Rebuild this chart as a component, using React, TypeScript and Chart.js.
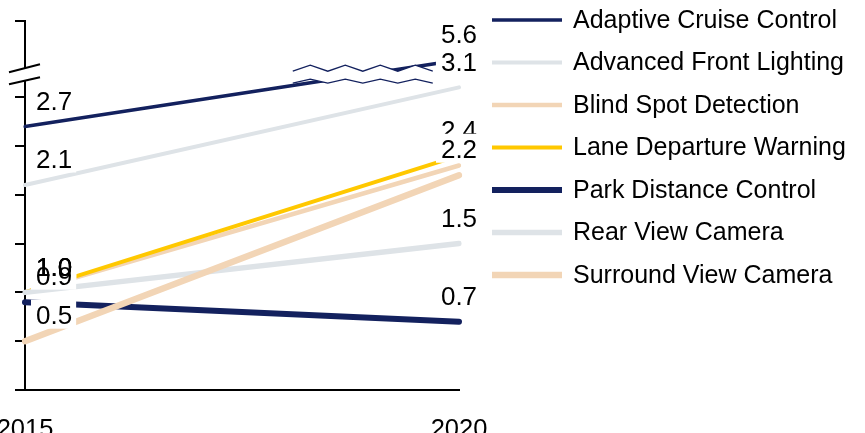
import { useEffect, useRef } from 'react';
import { Chart, registerables } from 'chart.js';

Chart.register(...registerables);

// ---- data ----
const YEARS = ['2015', '2020'];
const SERIES_NAMES = [
  'Adaptive Cruise Control',
  'Advanced Front Lighting',
  'Blind Spot Detection',
  'Lane Departure Warning',
  'Park Distance Control',
  'Rear View Camera',
  'Surround View Camera',
];
const ADAPTIVE_CRUISE = [2.7, 5.6];
const ADVANCED_FRONT = [2.1, 3.1];
const BLIND_SPOT = [1.0, 2.3];
const LANE_DEPARTURE = [1.0, 2.4];
const PARK_DISTANCE = [0.9, 0.7];
const REAR_VIEW = [1.0, 1.5];
const SURROUND_VIEW = [0.5, 2.2];
const SERIES_VALUES = [
  ADAPTIVE_CRUISE,
  ADVANCED_FRONT,
  BLIND_SPOT,
  LANE_DEPARTURE,
  PARK_DISTANCE,
  REAR_VIEW,
  SURROUND_VIEW,
];
const Y_TICKS = [0, 0.5, 1, 1.5, 2, 2.5, 3, 6];

// broken value axis: values between BREAK_FROM and BREAK_TO are cut out
const BREAK_FROM = 3.25;
const BREAK_TO = 5.47;
const toAxis = (v: number) => (v >= BREAK_TO ? v - (BREAK_TO - BREAK_FROM) : v);

// ---- styles ----
const NAVY = '#13215e';
const GRAY = '#dee3e7';
const PEACH = '#f2d5b6';
const YELLOW = '#ffc800';
const COLORS = [NAVY, GRAY, PEACH, YELLOW, NAVY, GRAY, PEACH];
const WIDTHS = [3.5, 4, 4.5, 4, 6, 5.5, 6.5];
const FONT = '"Liberation Sans", Arial, sans-serif';

const overlayPlugin = {
  id: 'overlay',
  afterDatasetsDraw(chart: any) {
    const ctx = chart.ctx;
    const xs = chart.scales.x;
    const ys = chart.scales.y;
    const x0 = xs.getPixelForValue(0);
    const x1 = xs.getPixelForValue(1);
    const yB = ys.getPixelForValue(BREAK_FROM - 0.02);

    // series break glyph on the first series
    ctx.save();
    const bx0 = x0 + 0.617 * (x1 - x0);
    const bx1 = x0 + 0.974 * (x1 - x0);
    const period = 35;
    const zig = (top: number, bottom: number) => {
      const pts: [number, number][] = [];
      let k = 0;
      for (let xx = bx0; xx <= bx1; xx += period / 2) {
        pts.push([xx, k % 2 === 0 ? bottom : top]);
        k++;
      }
      return pts;
    };
    const upper = zig(yB - 9.5, yB - 3.5);
    const lower = zig(yB + 4.5, yB + 8.5);
    ctx.beginPath();
    upper.forEach(([px, py], i) => (i ? ctx.lineTo(px, py) : ctx.moveTo(px, py)));
    [...lower].reverse().forEach(([px, py]) => ctx.lineTo(px, py));
    ctx.closePath();
    ctx.fillStyle = '#ffffff';
    ctx.fill();
    ctx.strokeStyle = NAVY;
    ctx.lineWidth = 1.3;
    ctx.lineJoin = 'miter';
    [upper, lower].forEach((line) => {
      ctx.beginPath();
      line.forEach(([px, py], i) => (i ? ctx.lineTo(px, py) : ctx.moveTo(px, py)));
      ctx.stroke();
    });

    // axis break marks
    const ax = chart.chartArea.left;
    ctx.fillStyle = '#ffffff';
    ctx.fillRect(ax - 4, yB - 6.5, 8, 12.5);
    ctx.strokeStyle = '#000';
    ctx.lineWidth = 2;
    ctx.beginPath();
    ctx.moveTo(ax - 16, yB - 2.5);
    ctx.lineTo(ax + 15, yB - 10.5);
    ctx.moveTo(ax - 16, yB + 9.5);
    ctx.lineTo(ax + 15, yB + 2.5);
    ctx.stroke();
    ctx.restore();

    // value labels: first-year labels (boxes, then texts), then last-year labels one by one
    ctx.save();
    ctx.font = `26px ${FONT}`;
    ctx.textBaseline = 'middle';
    ctx.textAlign = 'left';
    const items: { i: number; left: number; cy: number; w: number; text: string }[] = [];
    chart.data.datasets.forEach((_ds: any, di: number) => {
      const meta = chart.getDatasetMeta(di);
      meta.data.forEach((pt: any, i: number) => {
        const text = SERIES_VALUES[di][i].toFixed(1);
        const w = ctx.measureText(text).width;
        const cy = pt.y - 24;
        const left = i === 0 ? pt.x + 11 : pt.x - w / 2;
        items.push({ i, left, cy, w, text });
      });
    });
    const box = (it: any) => {
      ctx.fillStyle = '#ffffff';
      ctx.fillRect(it.left - 5, it.cy - 17.5, it.w + 9, 29);
    };
    const txt = (it: any) => {
      ctx.fillStyle = '#000';
      ctx.fillText(it.text, it.left, it.cy);
    };
    const first = items.filter((it) => it.i === 0);
    first.forEach(box);
    first.forEach(txt);
    items
      .filter((it) => it.i === 1)
      .forEach((it) => {
        box(it);
        txt(it);
      });
    ctx.restore();
  },
  afterDraw(chart: any) {
    const ctx = chart.ctx;
    const area = chart.chartArea;
    const lineStart = area.right + 33;
    const lineLen = 70;
    const textX = lineStart + 81;
    ctx.save();
    ctx.font = `25px ${FONT}`;
    ctx.textBaseline = 'middle';
    ctx.textAlign = 'left';
    chart.data.datasets.forEach((ds: any, i: number) => {
      const cy = area.top - 1 + i * 42.5;
      ctx.strokeStyle = ds.borderColor;
      ctx.lineWidth = ds.borderWidth;
      ctx.lineCap = 'butt';
      ctx.beginPath();
      ctx.moveTo(lineStart, cy);
      ctx.lineTo(lineStart + lineLen, cy);
      ctx.stroke();
      ctx.fillStyle = '#000';
      ctx.fillText(ds.label, textX, cy + 1);
    });
    ctx.restore();
  },
};

export default function App() {
  const ref = useRef<HTMLCanvasElement>(null);

  useEffect(() => {
    const canvas = ref.current;
    if (!canvas) return;
    const chart = new Chart(canvas, {
      type: 'line',
      data: {
        labels: YEARS,
        datasets: SERIES_NAMES.map((name, i) => ({
          label: name,
          data: SERIES_VALUES[i].map(toAxis),
          borderColor: COLORS[i],
          backgroundColor: COLORS[i],
          borderWidth: WIDTHS[i],
          borderCapStyle: 'round' as const,
          pointRadius: 0,
          pointHoverRadius: 0,
          fill: false,
          tension: 0,
          order: SERIES_NAMES.length - i,
        })),
      },
      options: {
        animation: false,
        responsive: false,
        events: [],
        layout: { padding: { left: 0, top: 21, right: 406, bottom: 0 } },
        plugins: {
          legend: { display: false },
          tooltip: { enabled: false },
          title: { display: false },
        },
        scales: {
          x: {
            type: 'category',
            offset: false,
            grid: {
              display: true,
              drawOnChartArea: false,
              drawTicks: true,
              tickLength: 25,
              color: 'rgba(0,0,0,0)',
            },
            border: { display: true, color: '#000', width: 2 },
            ticks: {
              color: '#000',
              font: { family: FONT, size: 25.5 },
              padding: 0,
              maxRotation: 0,
              autoSkip: false,
            },
            afterFit: (scale: any) => {
              scale.height = 60;
            },
          },
          y: {
            type: 'linear',
            min: 0,
            max: toAxis(6),
            grid: {
              display: true,
              drawOnChartArea: false,
              drawTicks: true,
              tickLength: 10,
              color: '#000',
              lineWidth: 2,
            },
            border: { display: true, color: '#000', width: 2 },
            ticks: { display: false },
            afterBuildTicks: (scale: any) => {
              scale.ticks = Y_TICKS.map((v) => ({ value: toAxis(v) }));
            },
            afterFit: (scale: any) => {
              scale.width = 35;
            },
          },
        },
      },
      plugins: [overlayPlugin],
    } as any);
    return () => chart.destroy();
  }, []);

  return (
    <div
      style={{
        position: 'fixed',
        left: -10,
        top: 0,
        width: 875,
        height: 450,
        background: '#ffffff',
      }}
    >
      <canvas
        ref={ref}
        width={875}
        height={450}
        style={{ width: 875, height: 450, display: 'block' }}
      />
    </div>
  );
}
